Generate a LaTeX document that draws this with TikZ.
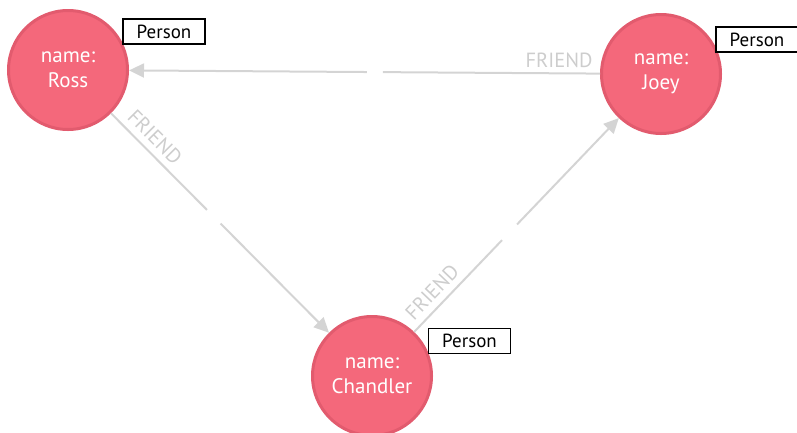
\documentclass[tikz,border=0pt]{standalone}
\usepackage{fontspec}
\setmainfont{PT Sans}
\usetikzlibrary{arrows.meta,calc}
\definecolor{nodefill}{HTML}{F4687B}
\definecolor{nodeborder}{HTML}{E25B6E}
\definecolor{edgegray}{HTML}{D4D4D4}
\definecolor{labelgray}{HTML}{CDCDCD}
\tikzset{
  person/.style={circle, fill=nodefill, draw=nodeborder, line width=3pt, minimum size=119pt, inner sep=0pt,
    text=white, align=center, font=\fontsize{21}{25}\selectfont},
  tag/.style={draw=black, line width=1.3pt, fill=white, minimum width=82pt, minimum height=25pt, inner sep=0pt,
    font=\fontsize{19}{20}\selectfont},
  edgeline/.style={draw=edgegray, line width=2pt},
  edgearrow/.style={edgeline, -{Triangle[length=15pt,width=14pt]}},
  rel/.style={text=labelgray, font=\fontsize{20.5}{22}\selectfont, inner sep=0pt}
}
\begin{document}
\begin{tikzpicture}[x=1pt,y=-1pt]
\useasboundingbox (0,0) rectangle (797,432);
\clip (0,0) rectangle (797,432);
% nodes
\node[person] (ross) at (68,70) {name:\\Ross};
\node[person] (joey) at (661,74) {name:\\Joey};
\node[person] (chandler) at (372,376) {name:\\Chandler};
% gap coordinates
\coordinate (rcA) at ($(ross)!0.457!(chandler)$);
\coordinate (rcB) at ($(ross)!0.502!(chandler)$);
\coordinate (cjA) at ($(chandler)!0.45!(joey)$);
\coordinate (cjB) at ($(chandler)!0.502!(joey)$);
\coordinate (jrA) at ($(joey)!0.469!(ross)$);
\coordinate (jrB) at ($(joey)!0.496!(ross)$);
% edges
\draw[edgeline] (ross) -- (rcA);
\draw[edgearrow] (rcB) -- (chandler);
\draw[edgeline] (chandler) -- (cjA);
\draw[edgearrow] (cjB) -- (joey);
\draw[edgeline] (joey) -- (jrA);
\draw[edgearrow] (jrB) -- (ross);
% edge labels
\node[rel, rotate=-45.2] (l1) at (155,137) {FRIEND};
\node[rel, rotate=46.3] (l2) at (432,292) {FRIEND};
\node[rel] (l3) at (559,60) {FRIEND};
% tags
\node[tag] (t1) at (164,31.5) {Person};
\node[tag] (t2) at (757,39.5) {Person};
\node[tag] (t3) at (469.5,341) {Person};
\end{tikzpicture}
\end{document}
